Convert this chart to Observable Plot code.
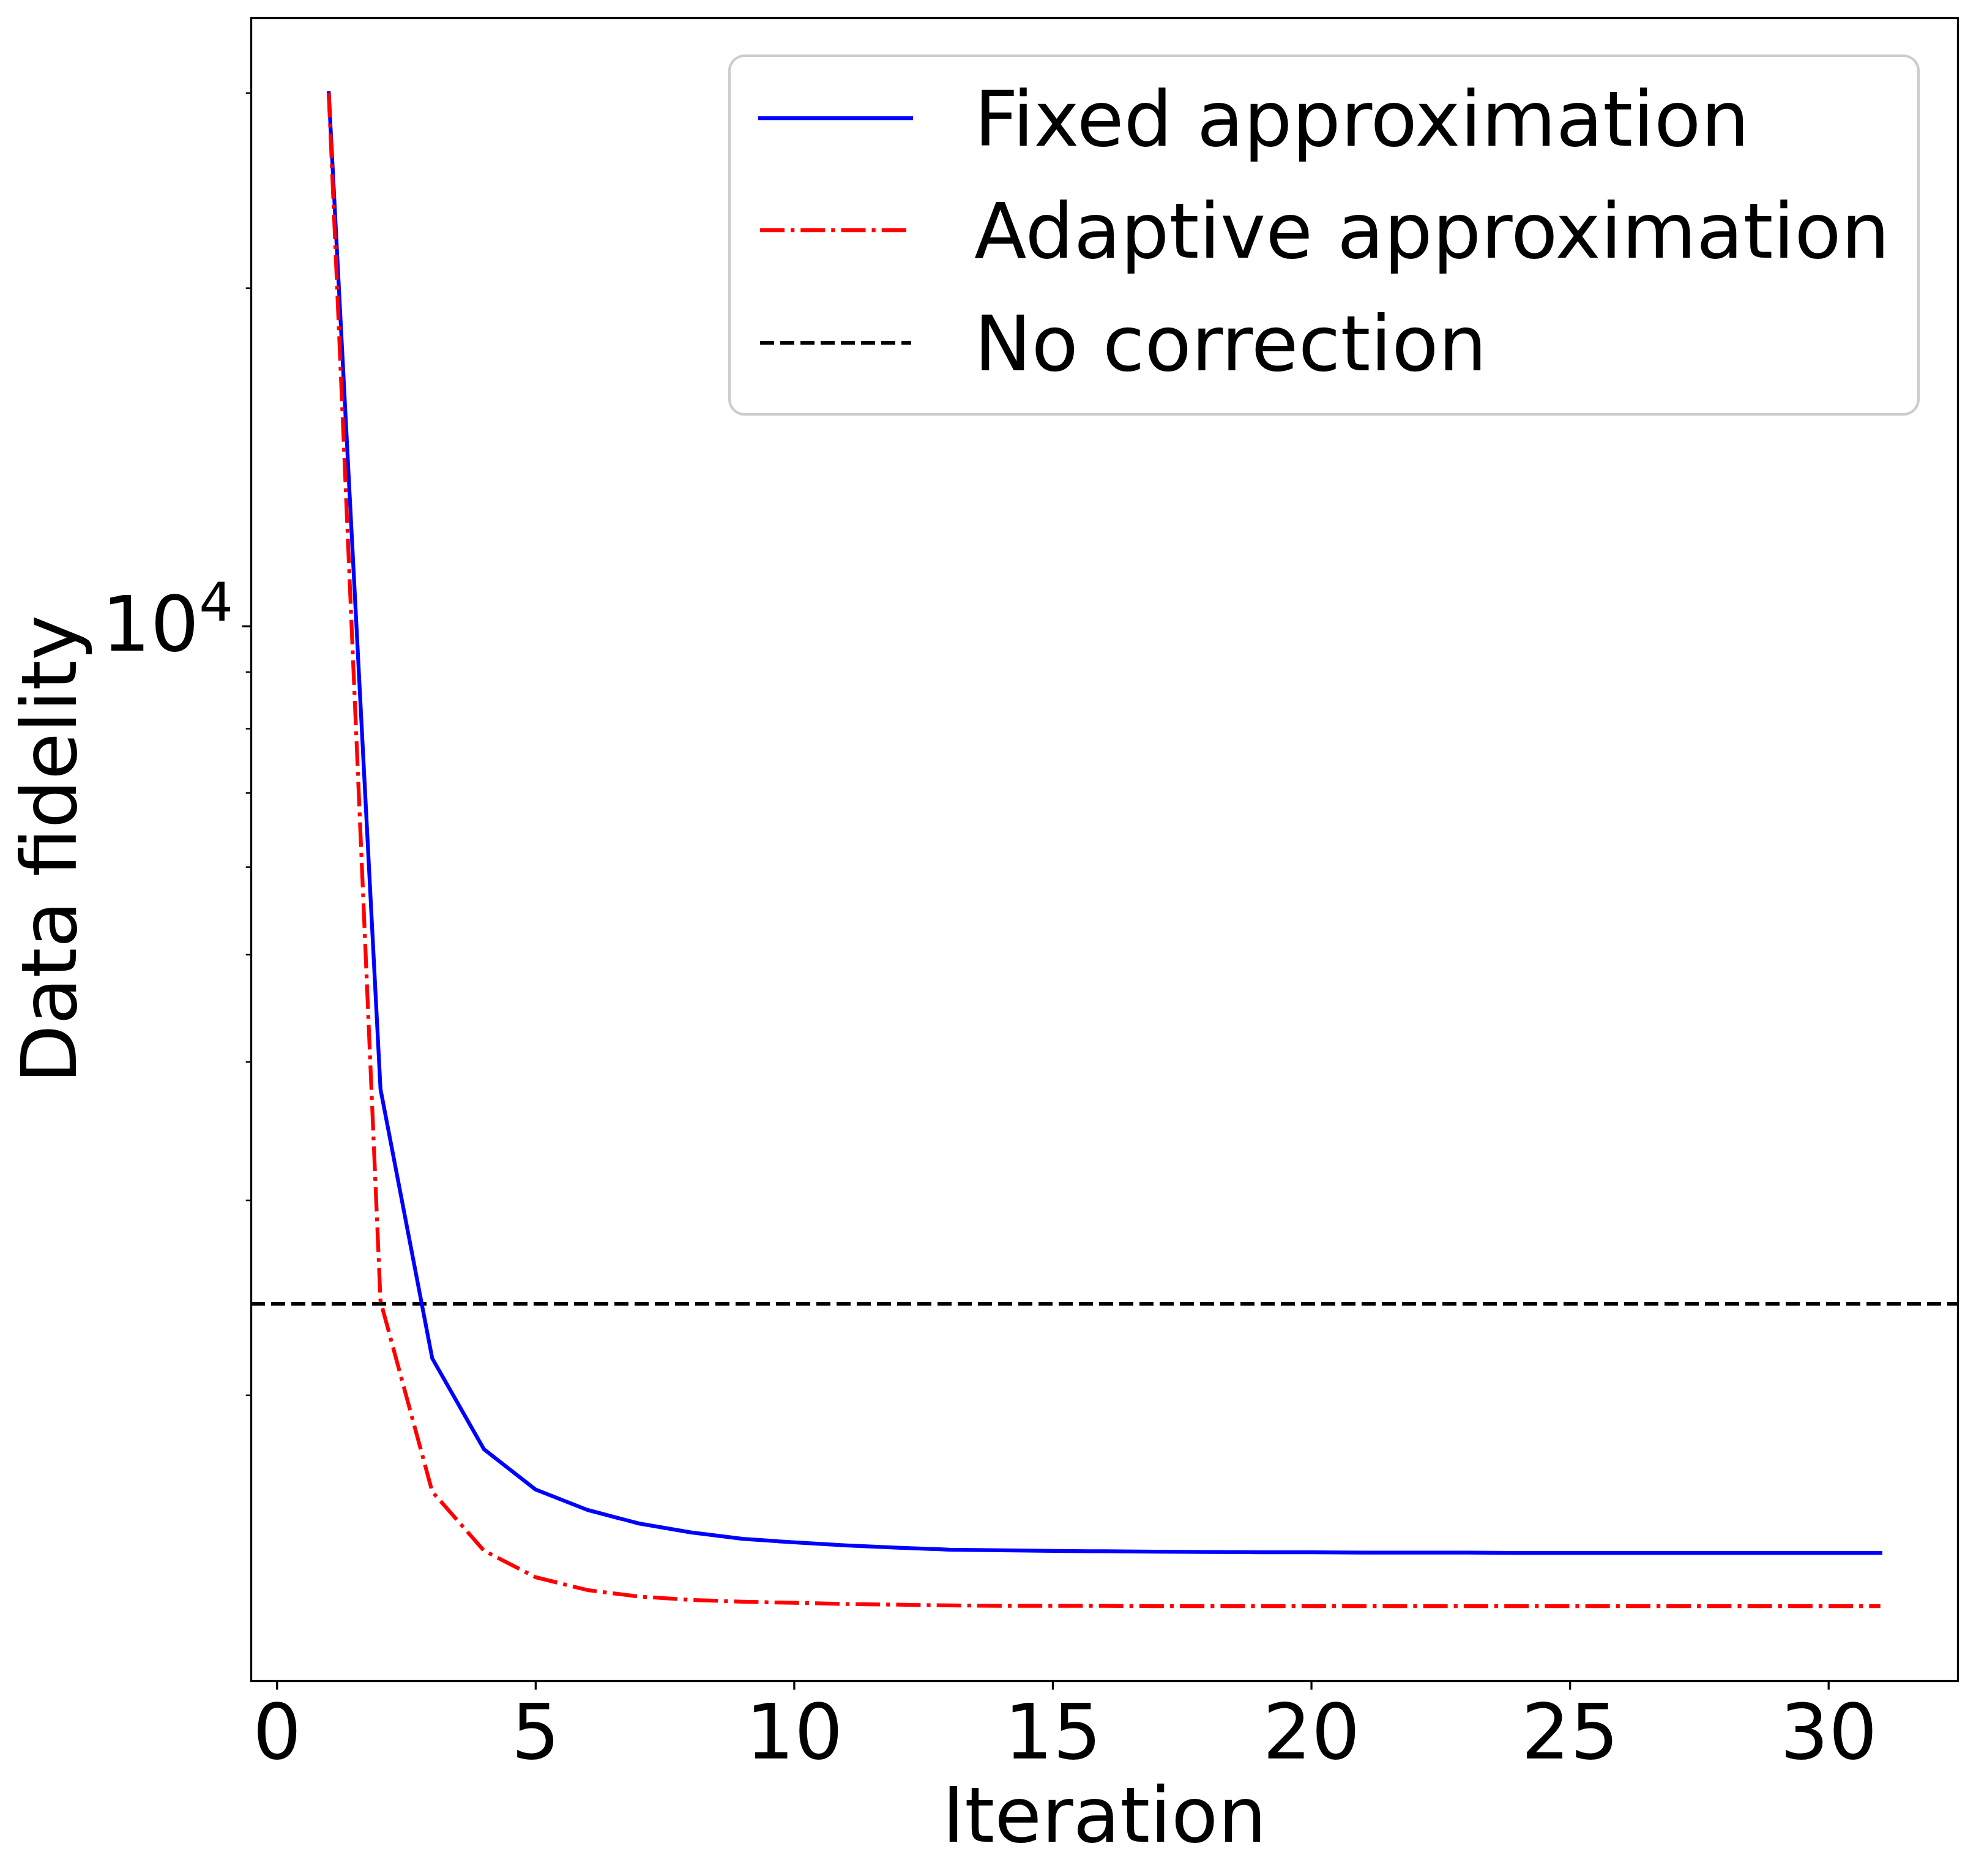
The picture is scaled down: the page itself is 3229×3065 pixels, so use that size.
<!DOCTYPE html>
<html>
<head>
<meta charset="utf-8">
<script src="https://cdn.jsdelivr.net/npm/d3@7"></script>
<script src="https://cdn.jsdelivr.net/npm/@observablehq/plot@0.6"></script>
<style>
  html, body { margin: 0; padding: 0; background: white; }
  #chart { width: 3229px; height: 3065px; }
</style>
</head>
<body>
<div id="chart"></div>
<script>
// ---- data ----
const iterations = [1,2,3,4,5,6,7,8,9,10,11,12,13,14,15,16,17,18,19,20,21,22,23,24,25,26,27,28,29,30,31];
const fixedApprox = [30000,3781,2160,1788,1644,1576,1532,1504,1484,1473,1464,1457,1451,1449,1447,1446,1445,1444,1443,1443,1442,1442,1442,1441,1441,1441,1441,1441,1441,1441,1441];
const adaptiveApprox = [30000,2433,1637,1448,1370,1334,1316,1307,1302,1299,1296,1294,1292,1291,1291,1291,1290,1290,1290,1290,1290,1290,1290,1290,1290,1290,1290,1290,1290,1290,1290];
const noCorrection = 2419;
const seriesNames = ["Fixed approximation", "Adaptive approximation", "No correction"];
const xTicks = [0, 5, 10, 15, 20, 25, 30];
const yMajorTicks = [10000];
const yMinorTicks = [2000, 3000, 4000, 5000, 6000, 7000, 8000, 9000, 20000, 30000];
const xLabel = "Iteration";
const yLabel = "Data fidelity";

const fixedData = iterations.map((it, i) => ({iteration: it, value: fixedApprox[i]}));
const adaptiveData = iterations.map((it, i) => ({iteration: it, value: adaptiveApprox[i]}));

// ---- layout ----
const W = 3229, H = 3065;
const mL = 410, mR = 30, mT = 29, mB = 319;
const FS = 125;
const LW = 6.25;
const dashed = "23,10";
const dashDot = "40,10,6.25,10";

const svg = Plot.plot({
  width: W, height: H,
  marginLeft: mL, marginRight: mR, marginTop: mT, marginBottom: mB,
  style: {fontFamily: "DejaVu Sans", fontSize: FS + "px", background: "white", color: "black", overflow: "visible"},
  x: {type: "linear", domain: [-0.5, 32.5]},
  y: {type: "log", domain: [1104, 35070]},
  marks: [
    Plot.ruleY([noCorrection], {stroke: "black", strokeWidth: LW, strokeDasharray: dashed, strokeLinecap: "butt"}),
    Plot.line(fixedData, {x: "iteration", y: "value", stroke: "#0000ff", strokeWidth: LW, strokeLinecap: "square", strokeLinejoin: "round"}),
    Plot.line(adaptiveData, {x: "iteration", y: "value", stroke: "#ff0000", strokeWidth: LW, strokeDasharray: dashDot, strokeLinecap: "butt", strokeLinejoin: "round"}),
    Plot.axisX({ticks: xTicks, tickSize: 14.6, tickPadding: 23.6, strokeWidth: 3.3, label: null, tickFormat: d => String(d)}),
    Plot.axisY({ticks: yMinorTicks, tickSize: 8.3, strokeWidth: 2.5, label: null, tickFormat: () => ""}),
    Plot.axisY({ticks: yMajorTicks, tickSize: 14.6, tickPadding: 15, strokeWidth: 3.3, label: null, tickFormat: () => "10", dy: 8}),
    Plot.frame({stroke: "black", strokeWidth: 3.3})
  ]
});

document.getElementById("chart").appendChild(svg);

const s = d3.select(svg);
// superscript exponent on the major y tick label
s.selectAll('g[aria-label="y-axis tick label"] text').each(function() {
  if (this.textContent === "10") {
    d3.select(this).append("tspan")
      .attr("dy", -49)
      .attr("font-size", FS * 0.7)
      .text("4");
  }
});

// axis labels
s.append("text")
  .attr("x", (mL + W - mR) / 2).attr("y", 3009)
  .attr("text-anchor", "middle")
  .attr("font-family", "DejaVu Sans").attr("font-size", FS)
  .attr("fill", "black")
  .text(xLabel);
s.append("text")
  .attr("transform", `translate(124,${(mT + H - mB) / 2}) rotate(-90)`)
  .attr("text-anchor", "middle")
  .attr("font-family", "DejaVu Sans").attr("font-size", FS)
  .attr("fill", "black")
  .text(yLabel);

// legend
const lg = s.append("g");
lg.append("rect")
  .attr("x", 1192).attr("y", 91).attr("width", 1943).attr("height", 586)
  .attr("rx", 25).attr("ry", 25)
  .attr("fill", "white").attr("fill-opacity", 0.8)
  .attr("stroke", "#cccccc").attr("stroke-width", 4.2);
const legendStyles = [
  {stroke: "#0000ff", dash: null, cap: "square"},
  {stroke: "#ff0000", dash: dashDot, cap: "butt"},
  {stroke: "black", dash: dashed, cap: "butt"}
];
const rowY = [193, 376, 560];
seriesNames.forEach((name, i) => {
  const st = legendStyles[i];
  const ln = lg.append("line")
    .attr("x1", 1242).attr("x2", 1489)
    .attr("y1", rowY[i]).attr("y2", rowY[i])
    .attr("stroke", st.stroke).attr("stroke-width", LW)
    .attr("stroke-linecap", st.cap);
  if (st.dash) ln.attr("stroke-dasharray", st.dash);
  lg.append("text")
    .attr("x", 1592).attr("y", rowY[i] + 45)
    .attr("text-anchor", "start")
    .attr("font-family", "DejaVu Sans").attr("font-size", FS)
    .attr("fill", "black")
    .text(name);
});
</script>
</body>
</html>
